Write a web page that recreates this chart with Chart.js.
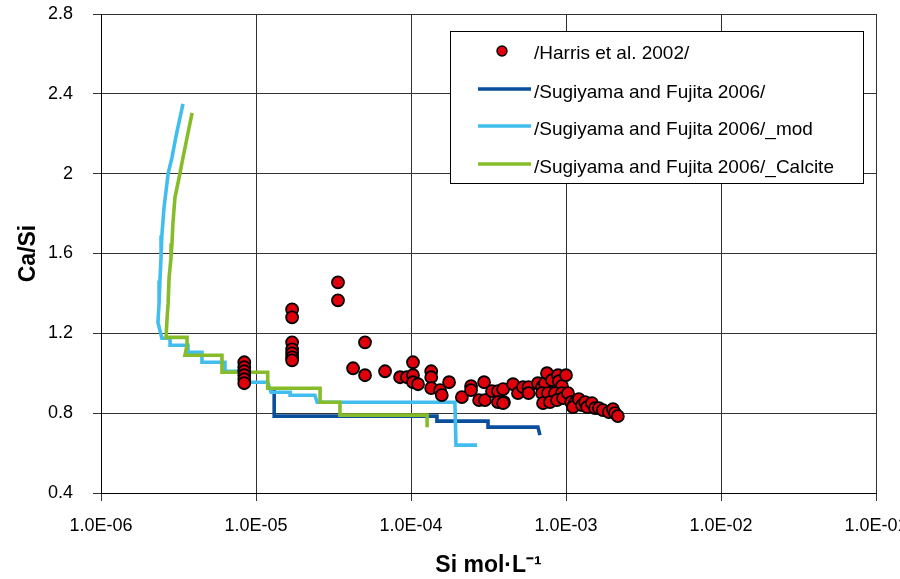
<!DOCTYPE html>
<html><head><meta charset="utf-8">
<script src="https://cdn.jsdelivr.net/npm/chart.js@4.4.0/dist/chart.umd.min.js"></script>
<style>html,body{margin:0;padding:0;background:#fff;}canvas{display:block}</style>
</head><body>
<canvas id="c" width="900" height="579"></canvas>
<script>
// ---- data ----
const xTickValues = [1e-6, 1e-5, 1e-4, 1e-3, 1e-2, 1e-1];
const xTickLabels = ['1.0E-06', '1.0E-05', '1.0E-04', '1.0E-03', '1.0E-02', '1.0E-01'];
const yTickValues = [0.4, 0.8, 1.2, 1.6, 2.0, 2.4, 2.8];
const yTickLabels = ['0.4', '0.8', '1.2', '1.6', '2', '2.4', '2.8'];
const seriesNames = ['/Harris et al. 2002/', '/Sugiyama and Fujita 2006/', '/Sugiyama and Fujita 2006/_mod', '/Sugiyama and Fujita 2006/_Calcite'];
const xTitle = 'Si mol·L⁻¹';
const yTitle = 'Ca/Si';

const harrisSi = [
  8.4e-6, 8.4e-6, 8.4e-6, 8.4e-6, 8.4e-6, 8.4e-6,
  1.71e-5, 1.71e-5, 1.71e-5, 1.71e-5, 1.71e-5, 1.71e-5, 1.71e-5,
  3.38e-5, 3.38e-5, 5.05e-5, 4.23e-5, 5.05e-5, 6.8e-5, 8.5e-5, 9.4e-5,
  1.03e-4, 1.03e-4, 1.03e-4, 1.11e-4, 1.35e-4, 1.35e-4, 1.35e-4, 1.54e-4, 1.58e-4, 1.76e-4,
  2.13e-4, 2.44e-4, 2.44e-4, 2.96e-4, 2.75e-4, 3.0e-4, 3.33e-4, 3.64e-4, 3.93e-4, 3.64e-4, 3.98e-4, 3.93e-4,
  4.55e-4, 4.9e-4, 5.28e-4, 5.73e-4, 5.73e-4, 6.59e-4, 7.0e-4, 7.32e-4, 7.54e-4, 8.12e-4, 8.88e-4, 9.0e-4, 9.42e-4,
  7.0e-4, 7.65e-4, 8.49e-4, 9.42e-4, 7.11e-4, 7.88e-4, 8.75e-4, 9.57e-4, 1.0e-3, 1.03e-3,
  1.08e-3, 1.14e-3, 1.11e-3, 1.21e-3, 1.27e-3, 1.33e-3, 1.37e-3, 1.47e-3, 1.54e-3, 1.63e-3, 1.73e-3, 1.89e-3, 2.01e-3, 2.07e-3, 2.16e-3
];
const harrisCaSi = [
  1.055, 1.03, 1.01, 0.99, 0.97, 0.95,
  1.32, 1.28, 1.155, 1.12, 1.10, 1.08, 1.065,
  1.455, 1.365, 1.155, 1.025, 0.99, 1.01, 0.98, 0.98,
  1.055, 0.99, 0.955, 0.945, 1.01, 0.98, 0.925, 0.915, 0.89, 0.955,
  0.88, 0.935, 0.915, 0.955, 0.865, 0.865, 0.91, 0.91, 0.92, 0.855, 0.855, 0.85,
  0.945, 0.90, 0.93, 0.93, 0.90, 0.95, 0.93, 0.95, 1.0, 0.965, 0.99, 0.96, 0.935,
  0.90, 0.90, 0.90, 0.90, 0.85, 0.855, 0.865, 0.875, 0.99, 0.90,
  0.855, 0.85, 0.83, 0.87, 0.84, 0.855, 0.83, 0.85, 0.825, 0.825, 0.815, 0.805, 0.82, 0.80, 0.785
];

const sugiSi   = [1.31e-5, 1.31e-5, 1.47e-4, 1.47e-4, 3.14e-4, 3.14e-4, 6.59e-4, 6.79e-4];
const sugiCaSi = [0.925, 0.785, 0.785, 0.76, 0.76, 0.73, 0.73, 0.69];

const modSi = [3.38e-6, 3.05e-6, 2.87e-6, 2.71e-6, 2.63e-6, 2.55e-6, 2.47e-6, 2.44e-6, 2.40e-6, 2.37e-6, 2.33e-6, 2.40e-6, 2.47e-6,
  2.79e-6, 2.79e-6, 3.64e-6, 3.64e-6, 4.48e-6, 4.48e-6, 6.31e-6, 6.31e-6, 8.49e-6, 8.49e-6, 1.19e-5, 1.25e-5,
  1.66e-5, 1.66e-5, 2.40e-5, 2.48e-5, 1.92e-4, 1.95e-4, 2.67e-4];
const modCaSi = [2.35, 2.19, 2.08, 2.0, 1.915, 1.83, 1.69, 1.58, 1.465, 1.35, 1.255, 1.215, 1.175,
  1.175, 1.14, 1.14, 1.105, 1.105, 1.055, 1.055, 1.01, 1.01, 0.955, 0.955, 0.905,
  0.905, 0.89, 0.89, 0.855, 0.855, 0.64, 0.64];

const calSi = [3.87e-6, 3.59e-6, 3.33e-6, 3.23e-6, 3.0e-6, 2.91e-6, 2.87e-6, 2.83e-6, 2.75e-6, 2.71e-6, 2.67e-6, 2.63e-6,
  3.59e-6, 3.59e-6, 3.48e-6, 6.03e-6, 6.03e-6, 1.19e-5, 1.19e-5, 2.59e-5, 2.59e-5, 3.48e-5, 3.48e-5, 1.27e-4, 1.27e-4];
const calCaSi = [2.305, 2.18, 2.055, 2.0, 1.88, 1.75, 1.65, 1.58, 1.48, 1.35, 1.28, 1.18,
  1.18, 1.14, 1.09, 1.09, 1.005, 1.005, 0.925, 0.925, 0.855, 0.855, 0.79, 0.79, 0.73];

const colors = { harris: '#e0000b', sugi: '#0b4f9c', mod: '#41bdee', cal: '#86bc2a' };

// ---- build ----
const pts = (xs, ys) => xs.map((x, i) => ({ x: x, y: ys[i] }));
const FONT = "'Liberation Sans', Arial, sans-serif";

const lineDs = (label, xs, ys, color, order) => ({
  label, data: pts(xs, ys), showLine: true, borderColor: color, backgroundColor: color,
  borderWidth: 3.6, pointRadius: 0, pointHoverRadius: 0, tension: 0, fill: false, order
});

const legendPlugin = {
  id: 'boxLegend',
  afterDraw(chart) {
    const ctx = chart.ctx;
    const ds = chart.data.datasets;
    ctx.save();
    ctx.fillStyle = '#fff';
    ctx.fillRect(450.5, 31.5, 413, 152);
    ctx.strokeStyle = '#000';
    ctx.lineWidth = 1;
    ctx.strokeRect(450.5, 31.5, 413, 152);
    const markY = [51, 89, 126, 164];
    const textY = [54, 93, 130, 168];
    ds.forEach((d, i) => {
      if (i === 0) {
        ctx.beginPath();
        ctx.arc(502, markY[i], 5, 0, Math.PI * 2);
        ctx.fillStyle = d.backgroundColor;
        ctx.fill();
        ctx.lineWidth = 1.4;
        ctx.strokeStyle = '#000';
        ctx.stroke();
      } else {
        ctx.beginPath();
        ctx.moveTo(478, markY[i]);
        ctx.lineTo(531, markY[i]);
        ctx.lineWidth = 3.6;
        ctx.strokeStyle = d.borderColor;
        ctx.stroke();
      }
      ctx.fillStyle = '#000';
      ctx.font = '19px ' + FONT;
      ctx.textBaseline = 'middle';
      ctx.textAlign = 'left';
      ctx.fillText(d.label, 534, textY[i]);
    });
    ctx.restore();
  }
};

new Chart(document.getElementById('c'), {
  type: 'scatter',
  data: {
    datasets: [
      { label: seriesNames[0], data: pts(harrisSi, harrisCaSi), backgroundColor: colors.harris,
        borderColor: '#000', pointRadius: 6, pointBorderWidth: 1.8, pointHoverRadius: 6, showLine: false, order: 0 },
      lineDs(seriesNames[1], sugiSi, sugiCaSi, colors.sugi, 3),
      lineDs(seriesNames[2], modSi, modCaSi, colors.mod, 2),
      lineDs(seriesNames[3], calSi, calCaSi, colors.cal, 1)
    ]
  },
  options: {
    responsive: false,
    devicePixelRatio: 1,
    animation: false,
    events: [],
    layout: { padding: { top: 14, right: 24, bottom: 0, left: 0 } },
    plugins: { legend: { display: false }, tooltip: { enabled: false } },
    scales: {
      x: {
        type: 'logarithmic', min: 1e-6, max: 1e-1,
        afterBuildTicks: s => { s.ticks = xTickValues.map(v => ({ value: v, major: true })); },
        afterFit: s => { s.height = 86; s.paddingLeft = 0; s.paddingRight = 0; },
        ticks: { callback: (v, i) => xTickLabels[i], autoSkip: false, maxRotation: 0, minRotation: 0,
          color: '#000', font: { family: FONT, size: 18 }, padding: 14 },
        grid: { color: '#333', lineWidth: 1, tickLength: 8, tickColor: '#333' },
        border: { color: '#000', width: 1 },
        title: { display: true, text: xTitle, color: '#000', font: { family: FONT, size: 23, weight: 'bold' }, padding: { top: 0, bottom: 0 } }
      },
      y: {
        type: 'linear', min: 0.4, max: 2.8,
        afterBuildTicks: s => { s.ticks = yTickValues.map(v => ({ value: v })); },
        afterFit: s => { s.width = 101; s.paddingTop = 0; s.paddingBottom = 0; },
        ticks: { callback: (v, i) => yTickLabels[i], autoSkip: false, color: '#000',
          font: { family: FONT, size: 18 }, padding: 20 },
        grid: { color: '#333', lineWidth: 1, tickLength: 8, tickColor: '#333' },
        border: { color: '#000', width: 1 },
        title: { display: true, text: yTitle, color: '#000', font: { family: FONT, size: 23, weight: 'bold' }, padding: { top: 15, bottom: 0 } }
      }
    }
  },
  plugins: [legendPlugin]
});
</script>
</body></html>
